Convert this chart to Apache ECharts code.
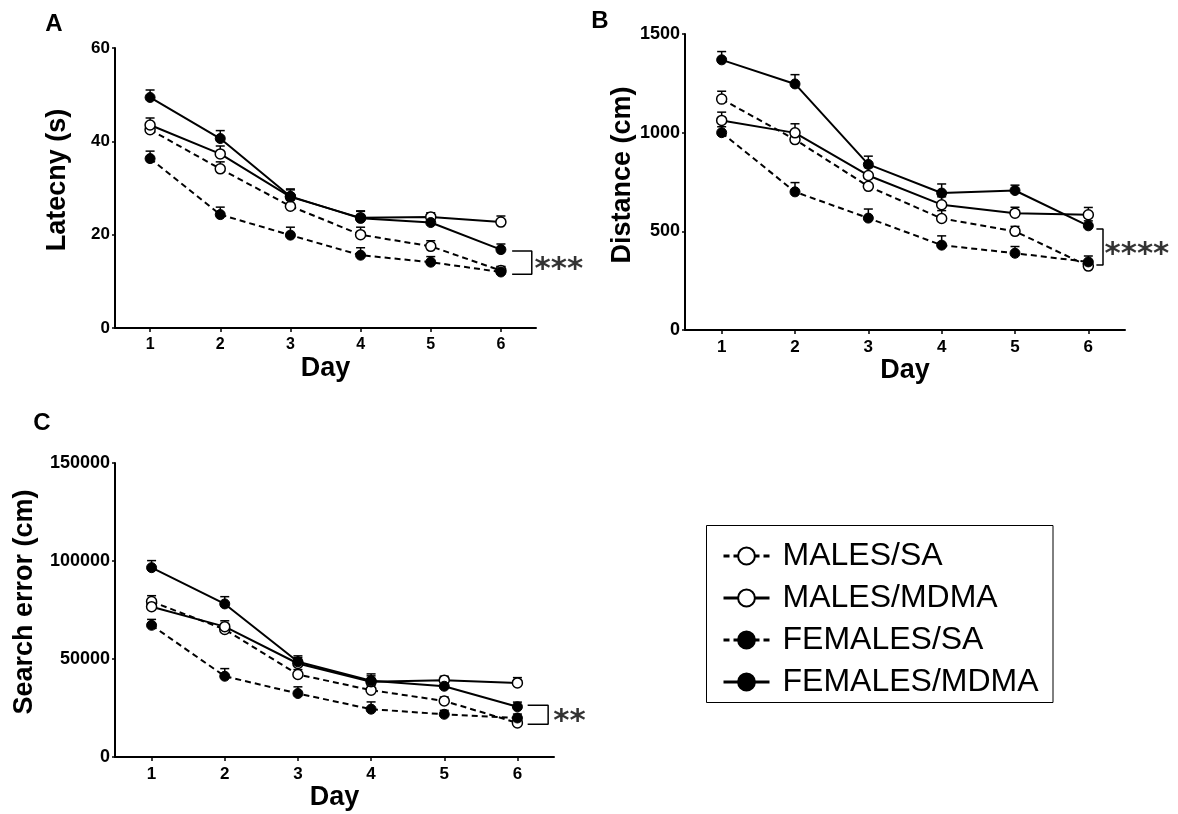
<!DOCTYPE html>
<html><head><meta charset="utf-8">
<script src="https://cdn.jsdelivr.net/npm/echarts@6/dist/echarts.min.js"></script>
<style>html,body{margin:0;padding:0;background:#fff}#c{width:1178px;height:814px}</style>
</head><body><div id="c"></div>
<script>
const days = [1, 2, 3, 4, 5, 6];
const groups = ['MALES/SA', 'MALES/MDMA', 'FEMALES/SA', 'FEMALES/MDMA'];

// Panel A: Latency (s)
const latMalesSA = [42.5, 34.1, 26.1, 20.0, 17.5, 12.3];
const latMalesSAErr = [1.3, 1.5, 1.4, 1.6, 1.2, 0.8];
const latMalesMDMA = [43.5, 37.3, 28.1, 23.6, 23.8, 22.7];
const latMalesMDMAErr = [1.5, 1.7, 1.5, 1.4, 0.9, 1.3];
const latFemalesSA = [36.3, 24.3, 19.9, 15.6, 14.1, 12.0];
const latFemalesSAErr = [1.6, 1.6, 1.7, 1.6, 1.2, 1.2];
const latFemalesMDMA = [49.4, 40.6, 28.2, 23.5, 22.6, 16.8];
const latFemalesMDMAErr = [1.6, 1.7, 1.6, 1.6, 1.3, 1.2];

// Panel B: Distance (cm)
const distMalesSA = [1170, 965, 728, 565, 500, 324];
const distMalesSAErr = [40, 40, 40, 40, 25, 20];
const distMalesMDMA = [1062, 999, 783, 635, 592, 584];
const distMalesMDMAErr = [42, 46, 40, 40, 30, 37];
const distFemalesSA = [1000, 700, 567, 430, 389, 345];
const distFemalesSAErr = [30, 47, 46, 47, 34, 30];
const distFemalesMDMA = [1369, 1247, 839, 694, 707, 528];
const distFemalesMDMAErr = [42, 47, 42, 46, 27, 25];

// Panel C: Search error (cm)
const seMalesSA = [79300, 65100, 42100, 34100, 28600, 17400];
const seMalesSAErr = [3000, 2500, 2500, 2500, 2000, 1500];
const seMalesMDMA = [76700, 66500, 47700, 38400, 39200, 37800];
const seMalesMDMAErr = [3000, 3000, 3000, 3000, 2000, 2700];
const seFemalesSA = [67200, 41200, 32400, 24400, 21800, 19900];
const seFemalesSAErr = [3000, 3900, 3400, 3700, 2000, 2000];
const seFemalesMDMA = [96600, 78100, 48600, 38900, 36100, 25600];
const seFemalesMDMAErr = [3600, 3700, 3000, 3500, 2000, 2400];

// Significance brackets [day, value] and star labels
const bracketA = [[6.16, 16.5], [6.44, 16.5], [6.44, 11.5], [6.16, 11.5]];
const starsA = [[6.48, 13.9]];
const bracketB = [[6.11, 512], [6.20, 512], [6.20, 329], [6.11, 329]];
const starsB = [[6.22, 416]];
const bracketC = [[6.14, 26400], [6.42, 26400], [6.42, 16700], [6.14, 16700]];
const starsC = [[6.49, 21400]];

// Axis tick ranges
const yTicksA = {min: 0, max: 60, interval: 20};
const yTicksB = {min: 0, max: 1500, interval: 500};
const yTicksC = {min: 0, max: 150000, interval: 50000};

const FONT = 'Liberation Sans, Arial, sans-serif';

function lineSeries(name, vals, gi) {
  const open = name.indexOf('MALES') === 0;
  const dashed = name.indexOf('/SA') > 0;
  return {
    type: 'line', name, xAxisIndex: gi, yAxisIndex: gi,
    data: days.map((d, i) => [d, vals[i]]),
    symbol: 'circle', symbolSize: 10, z: 3,
    lineStyle: {color: '#000', width: 2, type: dashed ? [6, 4] : 'solid'},
    itemStyle: open ? {color: '#fff', borderColor: '#000', borderWidth: 1.5}
                    : {color: '#000', borderColor: '#000', borderWidth: 1},
    emphasis: {disabled: true}
  };
}
function errSeries(vals, errs, gi) {
  return {
    type: 'custom', xAxisIndex: gi, yAxisIndex: gi, z: 1, silent: true,
    data: days.map((d, i) => [d, vals[i], errs[i]]),
    renderItem: function (params, api) {
      const x = api.value(0), y = api.value(1), e = api.value(2);
      const p0 = api.coord([x, y]), p1 = api.coord([x, y + e]);
      const st = {stroke: '#000', lineWidth: 1.5};
      return {type: 'group', children: [
        {type: 'line', shape: {x1: p0[0], y1: p0[1], x2: p1[0], y2: p1[1]}, style: st},
        {type: 'line', shape: {x1: p1[0] - 4.5, y1: p1[1], x2: p1[0] + 4.5, y2: p1[1]}, style: st}
      ]};
    }
  };
}
function bracketSeries(pts, gi) {
  return {type: 'line', xAxisIndex: gi, yAxisIndex: gi, data: pts, symbol: 'none', silent: true,
    lineStyle: {color: '#000', width: 1.5}, z: 2};
}
function starSeries(pts, text, gi) {
  return {type: 'scatter', xAxisIndex: gi, yAxisIndex: gi, data: pts, symbolSize: 0, silent: true,
    label: {show: true, position: 'right', distance: 0, formatter: text, offset: [0, 7],
      fontFamily: 'DejaVu Sans', fontWeight: 'bold', fontSize: 31, color: '#000'}};
}

const panels = [
  {vals: [latMalesSA, latMalesMDMA, latFemalesSA, latFemalesMDMA], errs: [latMalesSAErr, latMalesMDMAErr, latFemalesSAErr, latFemalesMDMAErr], br: bracketA, st: starsA, stars: '***'},
  {vals: [distMalesSA, distMalesMDMA, distFemalesSA, distFemalesMDMA], errs: [distMalesSAErr, distMalesMDMAErr, distFemalesSAErr, distFemalesMDMAErr], br: bracketB, st: starsB, stars: '****'},
  {vals: [seMalesSA, seMalesMDMA, seFemalesSA, seFemalesMDMA], errs: [seMalesSAErr, seMalesMDMAErr, seFemalesSAErr, seFemalesMDMAErr], br: bracketC, st: starsC, stars: '**'}
];

const series = [];
panels.forEach((p, gi) => {
  groups.forEach((g, k) => series.push(errSeries(p.vals[k], p.errs[k], gi)));
  groups.forEach((g, k) => series.push(lineSeries(g, p.vals[k], gi)));
  series.push(bracketSeries(p.br, gi));
  series.push(starSeries(p.st, p.stars, gi));
});

function xAxis(gi, fs) {
  return {type: 'value', gridIndex: gi, min: 0.5, max: 6.5,
    name: 'Day', nameLocation: 'middle', nameGap: 27,
    nameTextStyle: {fontFamily: FONT, fontWeight: 'bold', fontSize: 27, color: '#000'},
    axisLine: {show: true, onZero: false, lineStyle: {color: '#000', width: 2}},
    axisTick: {show: true, length: 4, customValues: days, lineStyle: {color: '#000', width: 1.5}},
    axisLabel: {customValues: days, margin: 9, fontFamily: FONT, fontWeight: 'bold', fontSize: fs, color: '#000'},
    splitLine: {show: false}};
}
function yAxis(gi, t, name, gap, fs, shift) {
  return {type: 'value', gridIndex: gi, min: t.min, max: t.max, interval: t.interval,
    name, nameLocation: 'middle', nameGap: gap, nameRotate: 90,
    nameTextStyle: {fontFamily: FONT, fontWeight: 'bold', fontSize: 27, color: '#000', padding: [0, 0, 0, shift]},
    axisLine: {show: true, lineStyle: {color: '#000', width: 2}},
    axisTick: {show: true, length: 3, lineStyle: {color: '#000', width: 1.5}},
    axisLabel: {margin: 5, fontFamily: FONT, fontWeight: 'bold', fontSize: fs, color: '#000',
      formatter: v => String(v)},
    splitLine: {show: false}};
}

const chart = echarts.init(document.getElementById('c'), null, {renderer: 'canvas'});
chart.setOption({
  animation: false,
  backgroundColor: '#fff',
  grid: [
    {left: 115, top: 48, width: 421, height: 280},
    {left: 685, top: 34, width: 440, height: 296},
    {left: 115, top: 463, width: 439, height: 294}
  ],
  xAxis: [xAxis(0, 16), xAxis(1, 17), xAxis(2, 17)],
  yAxis: [
    yAxis(0, yTicksA, 'Latecny (s)', 44, 17, 16),
    yAxis(1, yTicksB, 'Distance (cm)', 46, 18, 14),
    yAxis(2, yTicksC, 'Search error (cm)', 77, 18, 16)
  ],
  legend: {
    data: groups, orient: 'vertical', left: 717, top: 535,
    itemWidth: 46, itemHeight: 21, itemGap: 10, selectedMode: false,
    lineStyle: {width: 3},
    textStyle: {fontFamily: FONT, fontSize: 32, color: '#000', padding: [0, 0, 0, 8]}
  },
  graphic: [
    {type: 'text', x: 54, y: 24, style: {text: 'A', font: 'bold 24px ' + FONT, fill: '#000', textAlign: 'center', textVerticalAlign: 'middle'}},
    {type: 'text', x: 600, y: 21, style: {text: 'B', font: 'bold 24px ' + FONT, fill: '#000', textAlign: 'center', textVerticalAlign: 'middle'}},
    {type: 'text', x: 42, y: 423, style: {text: 'C', font: 'bold 24px ' + FONT, fill: '#000', textAlign: 'center', textVerticalAlign: 'middle'}},
    {type: 'rect', shape: {x: 706.5, y: 525.5, width: 346.5, height: 177}, style: {fill: 'none', stroke: '#000', lineWidth: 1}}
  ],
  series
});
</script></body></html>
